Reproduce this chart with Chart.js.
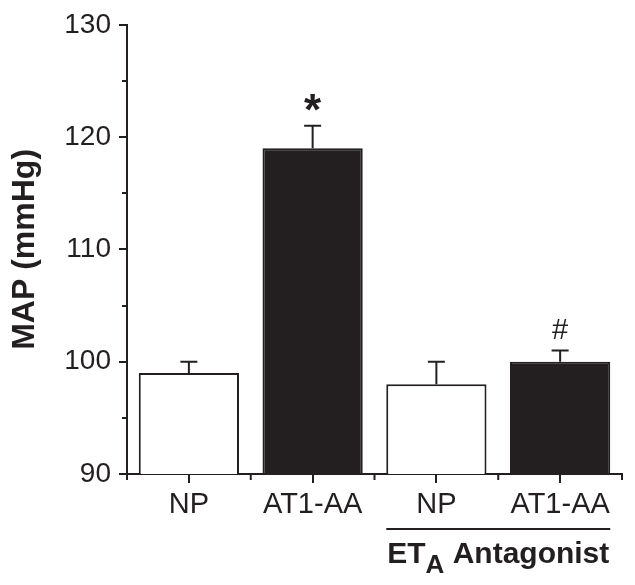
<!DOCTYPE html>
<html>
<head>
<meta charset="utf-8">
<script src="https://cdn.jsdelivr.net/npm/chart.js@4.4.1/dist/chart.umd.min.js"></script>
<style>
  html, body { margin: 0; padding: 0; background: #fff; }
  #map-chart { display: block; }
</style>
</head>
<body>
<canvas id="map-chart" width="635" height="585"></canvas>
<script>
const groups = ["NP", "AT1-AA", "NP", "AT1-AA"];
const mapValues = [99, 119, 98, 100];
const semValues = [1, 2, 2, 1];
const marks = ["", "*", "", "#"];
const yTicks = [90, 100, 110, 120, 130];
const yMinorTicks = [95, 105, 115, 125];
const bracketLabel = { main: "ET", sub: "A", rest: " Antagonist" };
const bracketGroups = [2, 3];

const INK = "#231f20";
const FONT = "'Liberation Sans', Arial, Helvetica, sans-serif";

// error bars, minor ticks, significance marks and the antagonist bracket
const extrasPlugin = {
  id: "extras",
  afterDatasetsDraw(chart) {
    const ctx = chart.ctx;
    const y = chart.scales.y;
    const bars = chart.getDatasetMeta(0).data;
    ctx.save();
    ctx.strokeStyle = INK;
    ctx.lineWidth = 2;
    bars.forEach((bar, i) => {
      const top = y.getPixelForValue(mapValues[i] + semValues[i]);
      const base = y.getPixelForValue(mapValues[i]);
      ctx.beginPath();
      ctx.moveTo(bar.x, base);
      ctx.lineTo(bar.x, top);
      ctx.moveTo(bar.x - 8.5, top);
      ctx.lineTo(bar.x + 8.5, top);
      ctx.stroke();
    });
    ctx.restore();
  },
  afterDraw(chart) {
    const ctx = chart.ctx;
    const x = chart.scales.x;
    const y = chart.scales.y;
    const area = chart.chartArea;
    const bars = chart.getDatasetMeta(0).data;
    ctx.save();
    ctx.strokeStyle = INK;
    ctx.fillStyle = INK;
    ctx.lineWidth = 2;

    // minor ticks
    ctx.beginPath();
    yMinorTicks.forEach((v) => {
      const py = Math.round(y.getPixelForValue(v));
      ctx.moveTo(area.left - 5, py);
      ctx.lineTo(area.left, py);
    });
    const edges = [area.left];
    for (let i = 0; i < groups.length - 1; i++) {
      edges.push((x.getPixelForValue(i) + x.getPixelForValue(i + 1)) / 2);
    }
    edges.push(area.right);
    edges.forEach((px) => {
      ctx.moveTo(px, area.bottom);
      ctx.lineTo(px, area.bottom + 6);
    });
    ctx.stroke();

    // significance marks
    ctx.textAlign = "center";
    ctx.textBaseline = "alphabetic";
    bars.forEach((bar, i) => {
      if (!marks[i]) return;
      const top = y.getPixelForValue(mapValues[i] + semValues[i]);
      if (marks[i] === "*") {
        ctx.font = "bold 44px " + FONT;
        ctx.fillText(marks[i], bar.x, top - 26 + 25);
      } else {
        ctx.font = "29px " + FONT;
        ctx.fillText(marks[i], bar.x, top - 21 + 10);
      }
    });

    // bracket under the antagonist groups
    const first = bars[bracketGroups[0]];
    const last = bars[bracketGroups[bracketGroups.length - 1]];
    const x0 = first.x - first.width / 2;
    const x1 = last.x + last.width / 2;
    const lineY = area.bottom + 55;
    ctx.beginPath();
    ctx.moveTo(x0, lineY);
    ctx.lineTo(x1, lineY);
    ctx.stroke();

    ctx.textAlign = "left";
    const mainFont = "bold 30px " + FONT;
    const subFont = "bold 26px " + FONT;
    ctx.font = mainFont;
    const wMain = ctx.measureText(bracketLabel.main).width;
    const wRest = ctx.measureText(bracketLabel.rest).width;
    ctx.font = subFont;
    const wSub = ctx.measureText(bracketLabel.sub).width;
    let tx = (x0 + x1) / 2 - (wMain + wSub + wRest) / 2;
    const base = area.bottom + 89;
    ctx.font = mainFont;
    ctx.fillText(bracketLabel.main, tx, base);
    tx += wMain;
    ctx.font = subFont;
    ctx.fillText(bracketLabel.sub, tx, base + 10);
    tx += wSub;
    ctx.font = mainFont;
    ctx.fillText(bracketLabel.rest, tx, base);
    ctx.restore();
  },
};

const ctx = document.getElementById("map-chart").getContext("2d");
new Chart(ctx, {
  type: "bar",
  data: {
    labels: groups,
    datasets: [
      {
        data: mapValues,
        backgroundColor: ["#ffffff", INK, "#ffffff", INK],
        borderColor: INK,
        borderWidth: 2,
        barPercentage: 0.81,
        categoryPercentage: 1,
      },
    ],
  },
  options: {
    responsive: false,
    animation: false,
    devicePixelRatio: 1,
    layout: { padding: { top: 24, right: 13, left: 0, bottom: 0 } },
    plugins: {
      legend: { display: false },
      tooltip: { enabled: false },
    },
    scales: {
      x: {
        afterFit(scale) {
          scale.height = 111;
        },
        grid: {
          offset: false,
          drawOnChartArea: false,
          drawTicks: true,
          tickLength: 9,
          color: INK,
          lineWidth: 2,
        },
        border: { display: true, color: INK, width: 2 },
        ticks: {
          color: INK,
          padding: 5,
          maxRotation: 0,
          font: { family: FONT, size: 29 },
        },
      },
      y: {
        min: 90,
        max: 130,
        afterFit(scale) {
          scale.width = 127;
        },
        afterBuildTicks(scale) {
          scale.ticks = yTicks.map((v) => ({ value: v }));
        },
        grid: {
          drawOnChartArea: false,
          drawTicks: true,
          tickLength: 8,
          color: INK,
          lineWidth: 2,
        },
        border: { display: true, color: INK, width: 2 },
        ticks: {
          color: INK,
          padding: 8,
          font: { family: FONT, size: 28 },
        },
        title: {
          display: true,
          text: "MAP (mmHg)",
          color: INK,
          font: { family: FONT, size: 32, weight: "bold" },
          padding: { top: 6, bottom: 0 },
        },
      },
    },
  },
  plugins: [extrasPlugin],
});
</script>
</body>
</html>
